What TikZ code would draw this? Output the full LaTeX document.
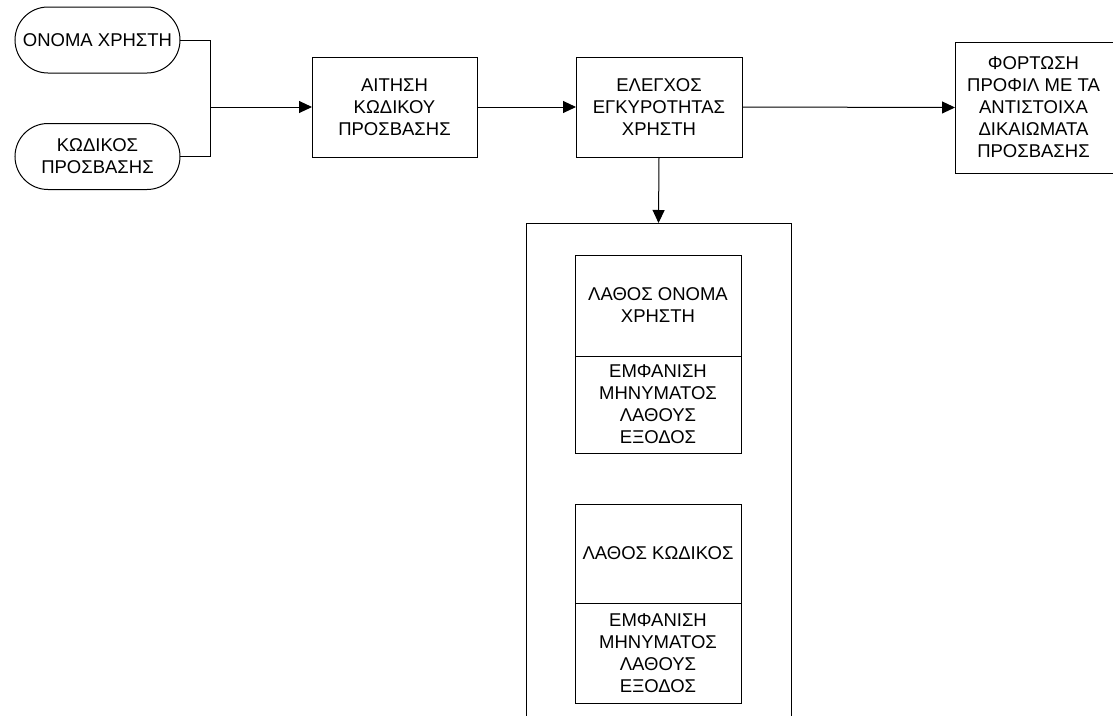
\documentclass[tikz,border=0pt]{standalone}
\usepackage{fontspec}
\setmainfont{Liberation Sans}
\usetikzlibrary{shapes.misc,arrows.meta}
\begin{document}
\begin{tikzpicture}[x=1pt,y=-1pt,
  line width=1pt,
  every node/.style={font=\fontsize{18.5}{22}\selectfont, align=center, inner sep=0pt, outer sep=0pt},
  term/.style={draw, rounded rectangle, minimum width=165pt, minimum height=66pt},
  stepbox/.style n args={2}{draw, rectangle, minimum width=#1pt, minimum height=#2pt},
  flow/.style={-{Triangle[length=13pt,width=12pt]}}
]
\useasboundingbox (0,0) rectangle (1113,715);
\begin{scope}
\clip (0,0) rectangle (1113,715);

% inputs
\node[term] (user) at (97.5,40) {ΟΝΟΜΑ ΧΡΗΣΤΗ};
\node[term] (pass) at (97.5,156.5) {ΚΩΔΙΚΟΣ\\ΠΡΟΣΒΑΣΗΣ};

% main flow
\node[stepbox={165}{100}] (req) at (394.5,107) {ΑΙΤΗΣΗ\\ΚΩΔΙΚΟΥ\\ΠΡΟΣΒΑΣΗΣ};
\node[stepbox={166}{100}] (check) at (659,107) {ΕΛΕΓΧΟΣ\\ΕΓΚΥΡΟΤΗΤΑΣ\\ΧΡΗΣΤΗ};
\node[stepbox={162}{131}] (load) at (1036,107.5) {};
\node at (1033.5,107.5) {ΦΟΡΤΩΣΗ\\ΠΡΟΦΙΛ ΜΕ ΤΑ\\ΑΝΤΙΣΤΟΙΧΑ\\ΔΙΚΑΙΩΜΑΤΑ\\ΠΡΟΣΒΑΣΗΣ};

% error handling frame
\node[stepbox={265}{520}] (frame) at (658.5,483) {};

\node[stepbox={166}{101}] (badusr) at (658,305.5) {ΛΑΘΟΣ ΟΝΟΜΑ\\ΧΡΗΣΤΗ};
\node[stepbox={166}{97}] (msgusr) at (658,404.5) {ΕΜΦΑΝΙΣΗ\\ΜΗΝΥΜΑΤΟΣ\\ΛΑΘΟΥΣ\\ΕΞΟΔΟΣ};

\node[stepbox={166}{99}] (badpwd) at (658,553.5) {ΛΑΘΟΣ ΚΩΔΙΚΟΣ};
\node[stepbox={166}{100}] (msgpwd) at (658,653) {ΕΜΦΑΝΙΣΗ\\ΜΗΝΥΜΑΤΟΣ\\ΛΑΘΟΥΣ\\ΕΞΟΔΟΣ};

% connectors
\coordinate (join) at (210,107);
\draw (user.east) -| (join);
\draw (pass.east) -| (join);
\draw[flow] (join) -- (req.west);
\draw[flow] (req.east) -- (check.west);
\draw[flow] (check.east) -- (load.west);
\draw[flow] (check.south) -- (frame.north);
\end{scope}
\end{tikzpicture}
\end{document}
